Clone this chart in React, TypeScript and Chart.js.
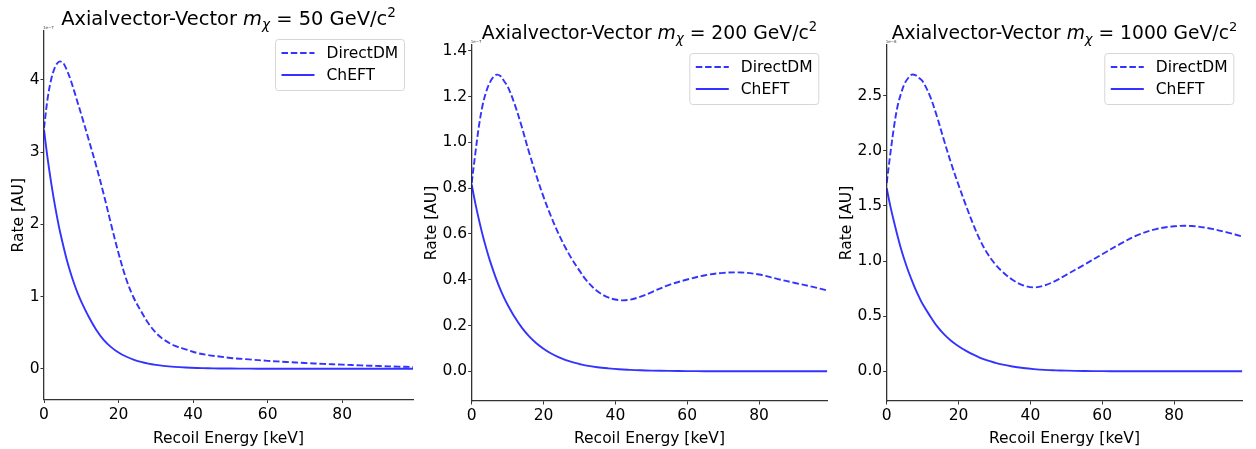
import React, { useEffect, useRef } from 'react';
import { Chart, registerables } from 'chart.js';

Chart.register(...registerables);

// ---------- data ----------
const energy = [0, 1, 2, 3, 4, 5, 6, 7, 8, 9, 10, 12, 14, 16, 18, 20, 22, 24, 26, 28, 30, 32, 35, 38, 41, 44, 47, 50, 55, 60, 65, 70, 75, 80, 85, 90, 95, 99];

const directDM50 = [3.33, 3.75, 4.02, 4.18, 4.25, 4.24, 4.15, 4.02, 3.86, 3.69, 3.52, 3.17, 2.81, 2.42, 2.0, 1.6, 1.25, 0.99, 0.8, 0.63, 0.5, 0.41, 0.32, 0.27, 0.22, 0.19, 0.17, 0.15, 0.13, 0.11, 0.095, 0.08, 0.068, 0.057, 0.047, 0.038, 0.03, 0.025];
const chEFT50 = [3.31, 2.9, 2.55, 2.24, 1.97, 1.74, 1.53, 1.35, 1.19, 1.05, 0.93, 0.72, 0.54, 0.4, 0.3, 0.225, 0.17, 0.128, 0.096, 0.072, 0.054, 0.04, 0.026, 0.017, 0.011, 0.007, 0.004, 0.003, 0.002, 0.001, 0.0006, 0.0004, 0.0003, 0.0002, 0.0001, 0.0001, 0.0001, 0.0001];

const directDM200 = [0.823, 0.95, 1.07, 1.16, 1.22, 1.26, 1.285, 1.296, 1.29, 1.268, 1.245, 1.165, 1.065, 0.955, 0.855, 0.762, 0.68, 0.607, 0.543, 0.488, 0.44, 0.396, 0.35, 0.323, 0.311, 0.313, 0.326, 0.345, 0.378, 0.401, 0.42, 0.43, 0.432, 0.423, 0.404, 0.386, 0.369, 0.353];
const chEFT200 = [0.815, 0.735, 0.663, 0.598, 0.54, 0.487, 0.44, 0.396, 0.357, 0.322, 0.291, 0.236, 0.19, 0.153, 0.123, 0.099, 0.079, 0.063, 0.05, 0.04, 0.032, 0.025, 0.018, 0.013, 0.009, 0.0065, 0.0045, 0.0033, 0.002, 0.001, 0.0006, 0.0004, 0.0003, 0.0002, 0.0002, 0.0001, 0.0001, 0.0001];

const directDM1000 = [1.707, 1.97, 2.21, 2.4, 2.52, 2.61, 2.66, 2.69, 2.685, 2.66, 2.63, 2.5, 2.31, 2.09, 1.88, 1.69, 1.51, 1.34, 1.19, 1.07, 0.98, 0.91, 0.83, 0.78, 0.761, 0.78, 0.82, 0.875, 0.967, 1.062, 1.155, 1.238, 1.29, 1.315, 1.318, 1.295, 1.258, 1.223];
const chEFT1000 = [1.66, 1.5, 1.36, 1.23, 1.11, 1.005, 0.91, 0.825, 0.745, 0.675, 0.61, 0.505, 0.41, 0.335, 0.275, 0.228, 0.188, 0.153, 0.123, 0.099, 0.08, 0.063, 0.044, 0.03, 0.02, 0.013, 0.009, 0.006, 0.003, 0.0015, 0.0008, 0.0005, 0.0003, 0.0002, 0.0002, 0.0001, 0.0001, 0.0001];

const seriesLabels = ['DirectDM', 'ChEFT'];
const masses = ['50', '200', '1000'];
const offsetTexts = ['1e\u22127', '1e\u22127', '1e\u22128'];
const yTickSteps = [1, 0.2, 0.5];
const yTickDecimals = [0, 1, 1];
const xTickStep = 20;
const xTitle = 'Recoil Energy [keV]';
const yTitle = 'Rate [AU]';

const panelData = [
  { direct: directDM50, cheft: chEFT50 },
  { direct: directDM200, cheft: chEFT200 },
  { direct: directDM1000, cheft: chEFT1000 },
];

// ---------- layout / style ----------
const H = 449;
const FONT = '"DejaVu Sans", "Liberation Sans", sans-serif';
const FS = 15.5;
const BLUE = 'rgba(0,0,255,0.8)';
const AXIS = '#333333';

const panelGeom = [
  { left: 0, width: 428, yWidth: 44, padTop: 31, padRight: 15, xHeight: 49.5, yTitlePad: 9.6, titleBase: 25, titleSize: 19.45 },
  { left: 420, width: 414, yWidth: 51.7, padTop: 45, padRight: 6.7, xHeight: 48, yTitlePad: 2.7, titleBase: 39.3, titleSize: 18.8 },
  { left: 834, width: 422, yWidth: 52.7, padTop: 45, padRight: 13.7, xHeight: 48, yTitlePad: 3.6, titleBase: 39.3, titleSize: 18.7 },
];

const mathTitlePlugin = {
  id: 'mathTitle',
  afterDraw(chart: any, _args: any, opts: any) {
    const { ctx, chartArea } = chart;
    const size = opts.size;
    const small = size * 0.7;
    const segs = [
      { t: 'Axialvector-Vector ', f: `${size}px ${FONT}`, dy: 0 },
      { t: 'm', f: `italic ${size}px ${FONT}`, dy: 0 },
      { t: '\u03c7', f: `italic ${small}px ${FONT}`, dy: size * 0.22 },
      { t: ` = ${opts.mass} GeV/c`, f: `${size}px ${FONT}`, dy: 0 },
      { t: '2', f: `${small}px ${FONT}`, dy: -size * 0.42 },
    ];
    ctx.save();
    ctx.fillStyle = '#000';
    ctx.textBaseline = 'alphabetic';
    ctx.textAlign = 'left';
    let total = 0;
    const widths = segs.map((s) => {
      ctx.font = s.f;
      const w = ctx.measureText(s.t).width;
      total += w;
      return w;
    });
    let x = (chartArea.left + chartArea.right) / 2 - total / 2;
    segs.forEach((s, i) => {
      ctx.font = s.f;
      ctx.fillText(s.t, x, opts.baseline + s.dy);
      x += widths[i];
    });
    // tiny offset text
    ctx.font = `4px ${FONT}`;
    ctx.fillStyle = '#444';
    ctx.textBaseline = 'bottom';
    ctx.fillText(opts.offset, chartArea.left - 1, chartArea.top - 1);
    ctx.restore();
  },
};

const boxLegendPlugin = {
  id: 'boxLegend',
  afterDraw(chart: any) {
    const { ctx, chartArea } = chart;
    const w = 129;
    const h = 51;
    const right = chartArea.right - 8.5;
    const top = chartArea.top + 8.5;
    const left = right - w;
    const r = 3;
    ctx.save();
    ctx.beginPath();
    ctx.moveTo(left + r, top);
    ctx.lineTo(left + w - r, top);
    ctx.quadraticCurveTo(left + w, top, left + w, top + r);
    ctx.lineTo(left + w, top + h - r);
    ctx.quadraticCurveTo(left + w, top + h, left + w - r, top + h);
    ctx.lineTo(left + r, top + h);
    ctx.quadraticCurveTo(left, top + h, left, top + h - r);
    ctx.lineTo(left, top + r);
    ctx.quadraticCurveTo(left, top, left + r, top);
    ctx.closePath();
    ctx.fillStyle = 'rgba(255,255,255,0.8)';
    ctx.fill();
    ctx.strokeStyle = '#d6d6d6';
    ctx.lineWidth = 1;
    ctx.stroke();
    const rows = [13.5, 35.5];
    chart.data.datasets.forEach((ds: any, i: number) => {
      const y = top + rows[i];
      ctx.beginPath();
      ctx.setLineDash(ds.borderDash || []);
      ctx.strokeStyle = ds.borderColor;
      ctx.lineWidth = ds.borderWidth;
      ctx.moveTo(left + 6, y);
      ctx.lineTo(left + 39, y);
      ctx.stroke();
      ctx.setLineDash([]);
      ctx.fillStyle = '#000';
      ctx.font = `${FS}px ${FONT}`;
      ctx.textBaseline = 'middle';
      ctx.textAlign = 'left';
      ctx.fillText(ds.label, left + 51, y + 0.5);
    });
    ctx.restore();
  },
};

function Panel({ idx }: { idx: number }) {
  const ref = useRef<HTMLCanvasElement | null>(null);
  const g = panelGeom[idx];
  useEffect(() => {
    if (!ref.current) return;
    const d = panelData[idx];
    const M = Math.max(...d.direct);
    const dec = yTickDecimals[idx];
    const chart = new Chart(ref.current, {
      type: 'line',
      data: {
        datasets: [
          {
            label: seriesLabels[0],
            data: energy.map((x, i) => ({ x, y: d.direct[i] })),
            borderColor: BLUE,
            borderWidth: 1.9,
            borderDash: [6.5, 2.8],
            pointRadius: 0,
            tension: 0.35,
            fill: false,
          },
          {
            label: seriesLabels[1],
            data: energy.map((x, i) => ({ x, y: d.cheft[i] })),
            borderColor: BLUE,
            borderWidth: 1.9,
            pointRadius: 0,
            tension: 0.35,
            fill: false,
          },
        ],
      },
      options: {
        animation: false,
        responsive: false,
        devicePixelRatio: 1,
        layout: { padding: { left: 0, right: g.padRight, top: g.padTop, bottom: 0 } },
        plugins: {
          legend: { display: false },
          title: { display: false },
          tooltip: { enabled: false },
          mathTitle: { mass: masses[idx], baseline: g.titleBase, offset: offsetTexts[idx], size: g.titleSize },
        } as any,
        scales: {
          x: {
            type: 'linear',
            min: energy[0],
            max: energy[energy.length - 1],
            afterFit: (s: any) => { s.height = g.xHeight; },
            ticks: {
              stepSize: xTickStep,
              includeBounds: false,
              padding: 2.4,
              color: '#000',
              font: { family: FONT, size: FS },
              maxRotation: 0,
              callback: (v: any) => String(v),
            },
            grid: { display: true, drawOnChartArea: false, drawTicks: true, tickLength: 3.5, color: AXIS, tickWidth: 1 },
            border: { display: true, color: AXIS, width: 1.3 },
            title: { display: true, text: xTitle, color: '#000', font: { family: FONT, size: FS }, padding: { top: 0, bottom: 1.1 } },
          },
          y: {
            type: 'linear',
            min: -0.1 * M,
            max: 1.1 * M,
            afterFit: (s: any) => { s.width = g.yWidth; },
            ticks: {
              stepSize: yTickSteps[idx],
              includeBounds: false,
              padding: 1,
              color: '#000',
              font: { family: FONT, size: FS },
              callback: (v: any) => Number(v).toFixed(dec),
            },
            grid: { display: true, drawOnChartArea: false, drawTicks: true, tickLength: 3.5, color: AXIS, tickWidth: 1 },
            border: { display: true, color: AXIS, width: 1.3 },
            title: { display: true, text: yTitle, color: '#000', font: { family: FONT, size: FS }, padding: { top: g.yTitlePad, bottom: 0 } },
          },
        },
      },
      plugins: [mathTitlePlugin, boxLegendPlugin],
    } as any);
    return () => chart.destroy();
  }, [idx]);
  return (
    <canvas
      ref={ref}
      width={g.width}
      height={H}
      style={{ position: 'absolute', left: g.left, top: 0, width: g.width, height: H }}
    />
  );
}

export default function App() {
  return (
    <div style={{ position: 'fixed', left: 0, top: 0, width: 1256, height: H, background: '#fff' }}>
      {[0, 1, 2].map((i) => (
        <Panel key={i} idx={i} />
      ))}
    </div>
  );
}
